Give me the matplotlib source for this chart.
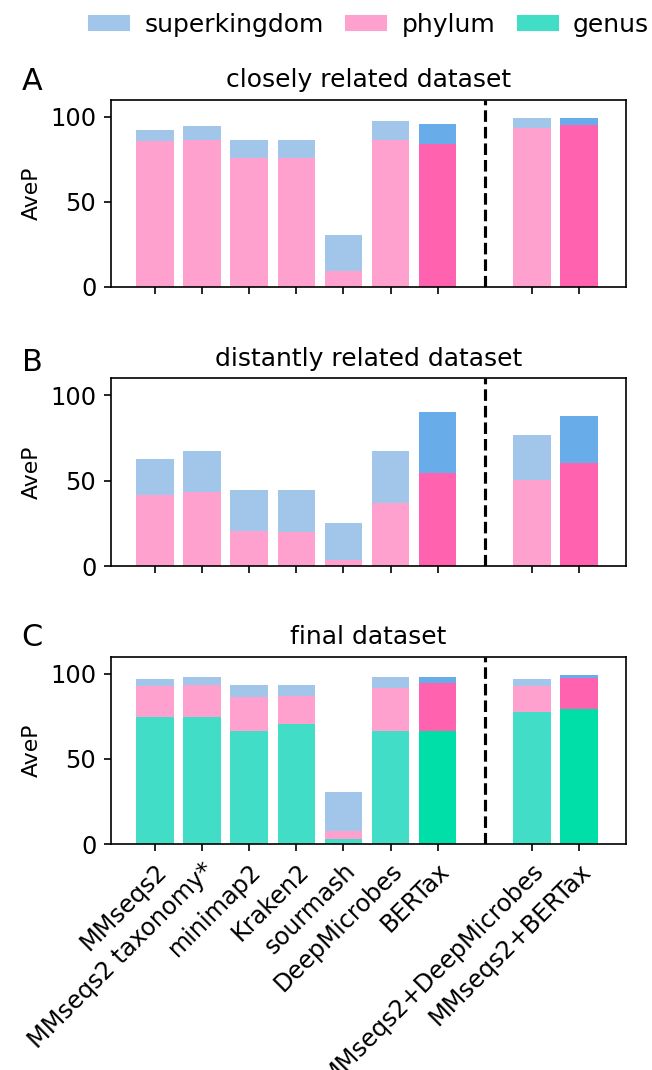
import matplotlib
matplotlib.use("Agg")
import matplotlib.pyplot as plt
from matplotlib.patches import Patch

plt.rcParams['font.size'] = 12

methods = ['MMseqs2', 'MMseqs2 taxonomy*', 'minimap2', 'Kraken2', 'sourmash',
           'DeepMicrobes', 'BERTax', 'MMseqs2+DeepMicrobes', 'MMseqs2+BERTax']
positions = [0, 1, 2, 3, 4, 5, 6, 8, 9]
highlight = ['BERTax', 'MMseqs2+BERTax']

# closely related dataset
closely_superkingdom = [92.2, 94.5, 86.3, 86.3, 30.4, 97.5, 95.7, 99.2, 99.2]
closely_phylum = [85.7, 86.7, 76.1, 76.1, 9.2, 86.7, 84.1, 93.7, 95.1]

# distantly related dataset
distantly_superkingdom = [62.5, 67.2, 44.3, 44.3, 25.0, 67.2, 90.0, 76.6, 87.7]
distantly_phylum = [41.4, 43.4, 20.3, 19.9, 3.5, 36.7, 54.3, 50.4, 60.2]

# final dataset
final_superkingdom = [97.1, 98.2, 93.5, 93.5, 30.6, 98.2, 98.2, 97.1, 99.4]
final_phylum = [93.1, 93.5, 86.5, 87.3, 7.6, 92.0, 94.7, 93.1, 97.8]
final_genus = [74.7, 74.7, 66.5, 70.6, 2.9, 66.5, 66.5, 77.8, 79.4]

colors = {
    'superkingdom': ('#a1c6ea', '#68acea'),
    'phylum': ('#ffa1cf', '#ff63b0'),
    'genus': ('#42ddc7', '#00dfa8'),
}

fig = plt.figure(figsize=(652 / 150, 1070 / 150), dpi=150)

panels = [
    ('A', 'closely related dataset', [('superkingdom', closely_superkingdom), ('phylum', closely_phylum)]),
    ('B', 'distantly related dataset', [('superkingdom', distantly_superkingdom), ('phylum', distantly_phylum)]),
    ('C', 'final dataset', [('superkingdom', final_superkingdom), ('phylum', final_phylum), ('genus', final_genus)]),
]
rects = [
    [0.170, 0.7318, 0.790, 0.1748],
    [0.170, 0.4710, 0.790, 0.1757],
    [0.170, 0.2112, 0.790, 0.1748],
]
letter_y = [1 - 82 / 1070, 1 - 362 / 1070, 1 - 637 / 1070]

for i, (letter, title, levels) in enumerate(panels):
    ax = fig.add_axes(rects[i])
    # highest level first, lower levels drawn over it
    for level, values in levels:
        cols = [colors[level][1] if m in highlight else colors[level][0] for m in methods]
        ax.bar(positions, values, width=0.8, color=cols)
    ax.axvline(7, color='black', linestyle='--', linewidth=1.5)
    ax.set_ylim(0, 110)
    ax.set_xlim(-0.94, 10.0)
    ax.set_yticks([0, 50, 100])
    ax.set_xticks(positions)
    ax.tick_params(labelsize=11.5)
    ax.set_ylabel('AveP', fontsize=10.5)
    ax.set_title(title, fontsize=12)
    if letter == 'C':
        ax.set_xticklabels(methods, rotation=45, ha='right', rotation_mode='anchor')
    else:
        ax.set_xticklabels([])
    fig.text(0.033, letter_y[i], letter, fontsize=14.5, va='center')

handles = [Patch(color=colors[k][0], label=k) for k in ['superkingdom', 'phylum', 'genus']]
fig.legend(handles=handles, loc='center', bbox_to_anchor=(0.566, 1 - 25 / 1070), ncol=3,
           frameon=False, handlelength=1.6, handleheight=0.45, handletextpad=0.6,
           columnspacing=0.9)

fig.savefig('out.png', dpi=150)
